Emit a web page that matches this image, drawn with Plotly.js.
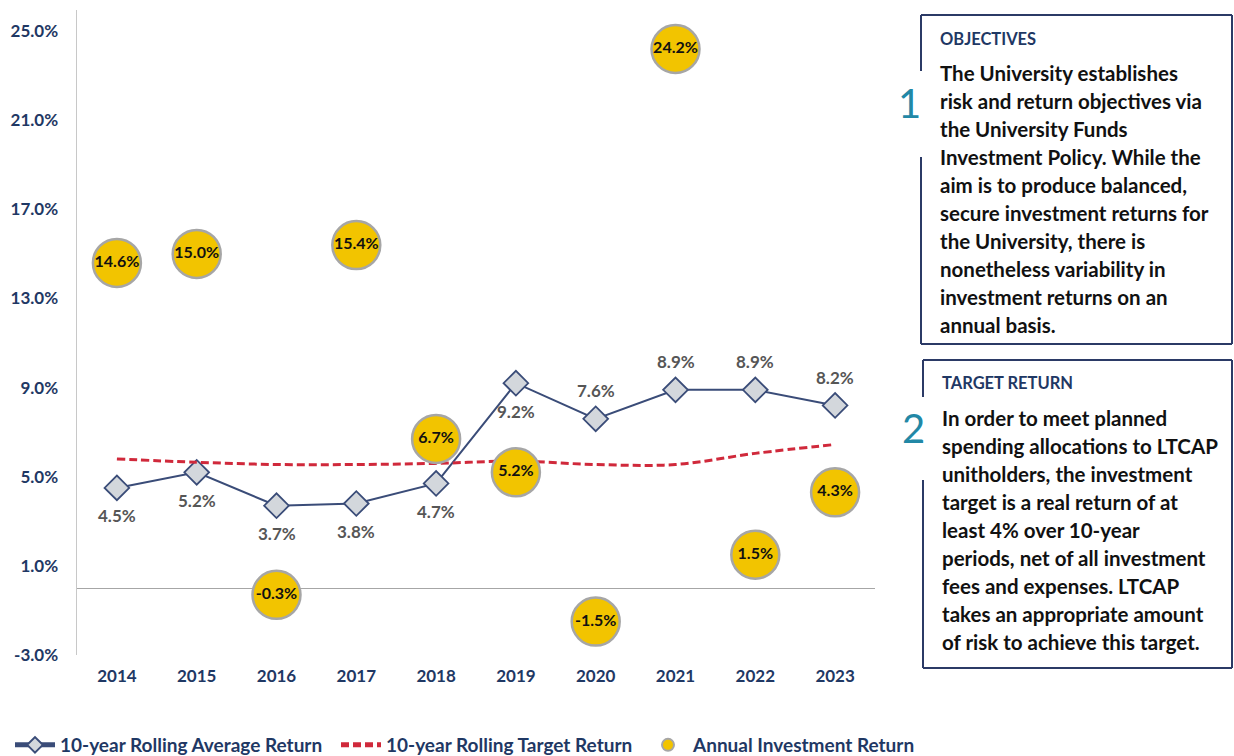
<!DOCTYPE html>
<html>
<head>
<meta charset="utf-8">
<script src="https://cdn.plot.ly/plotly-3.0.1.min.js"></script>
<style>html,body{margin:0;padding:0;background:#fff;}#chart{width:1234px;height:756px;}</style>
</head>
<body>
<div id="chart"></div>
<script>
// ---- data ----
const years = ["2014","2015","2016","2017","2018","2019","2020","2021","2022","2023"];
const rollingAvg = [4.5, 5.2, 3.7, 3.8, 4.7, 9.2, 7.6, 8.9, 8.9, 8.2];
const rollingTarget = [5.8, 5.65, 5.55, 5.55, 5.6, 5.7, 5.55, 5.55, 6.05, 6.45];
const annualReturn = [14.6, 15.0, -0.3, 15.4, 6.7, 5.2, -1.5, 24.2, 1.5, 4.3];
const yTicks = [-3, 1, 5, 9, 13, 17, 21, 25];

const objTitle = "OBJECTIVES";
const objLines = ["The University establishes", "risk and return objectives via", "the University Funds", "Investment Policy. While the", "aim is to produce balanced,", "secure investment returns for", "the University, there is", "nonetheless variability in", "investment returns on an", "annual basis."];
const tgtTitle = "TARGET RETURN";
const tgtLines = ["In order to meet planned", "spending allocations to LTCAP", "unitholders, the investment", "target is a real return of at", "least 4% over 10-year", "periods, net of all investment", "fees and expenses. LTCAP", "takes an appropriate amount", "of risk to achieve this target."];

// ---- layout helpers (pixel -> paper) ----
const W = 1234, H = 756;
const L = 77, R = 875, T = 10, B = 655;
const X = px => (px - L) / (R - L);
const Y = py => (B - py) / (B - T);
const FONT = "Lato, 'Open Sans', sans-serif";
const NAVY = "#1F3864";
// label side for rolling average labels (1 = above, -1 = below)
const labelSide = [-1, -1, -1, -1, -1, -1, 1, 1, 1, 1];

const traces = [
  {
    x: years, y: rollingAvg, type: "scatter", mode: "lines+markers",
    name: "10-year Rolling Average Return", legend: "legend",
    line: {color: "#3A4C78", width: 2},
    marker: {symbol: "diamond", size: 19, color: "#D3D7DC", line: {color: "#3A4C78", width: 1.8}},
    hoverinfo: "skip"
  },
  {
    x: years, y: rollingTarget, type: "scatter", mode: "lines",
    name: "10-year Rolling Target Return", legend: "legend2",
    line: {color: "#D0293B", width: 3, dash: "8px,4px", shape: "spline"},
    hoverinfo: "skip"
  },
  {
    x: years, y: annualReturn, type: "scatter", mode: "markers+text",
    name: "Annual Investment Return", legend: "legend3",
    marker: {symbol: "circle", size: 48, color: "#F2C400", line: {color: "#A6A6A6", width: 2.5}},
    texttemplate: "%{y:.1f}%", textposition: "middle center",
    textfont: {family: FONT, size: 16, color: "#111111", weight: 700},
    hoverinfo: "skip"
  }
];

const shapes = [];
function seg(x0, y0, x1, y1) {
  shapes.push({type: "line", xref: "paper", yref: "paper", x0: X(x0), y0: Y(y0), x1: X(x1), y1: Y(y1),
    line: {color: "#2B3A66", width: 2}});
}
// box 1
seg(921, 15, 1232, 15); seg(1232, 15, 1232, 344); seg(921, 344, 1232, 344);
seg(921, 15, 921, 71); seg(921, 157, 921, 344);
// box 2
seg(923, 360, 1232, 360); seg(1232, 360, 1232, 668); seg(923, 668, 1232, 668);
seg(923, 360, 923, 397); seg(923, 480, 923, 668);

const annotations = [];
function txt(text, px, py, size, color, weight, anchor) {
  annotations.push({text: text, xref: "paper", yref: "paper", x: X(px), y: Y(py),
    xanchor: anchor || "left", yanchor: "middle", showarrow: false, borderpad: 0,
    font: {family: FONT, size: size, color: color, weight: weight}});
}
txt(objTitle, 939, 39, 16.5, NAVY, 700);
objLines.forEach((s, i) => txt(s, 939, 73 + 28 * i, 20.5, "#111111", 700));
txt(tgtTitle, 941, 383, 16.5, NAVY, 700);
tgtLines.forEach((s, i) => txt(s, 941, 418 + 28 * i, 20.5, "#111111", 700));
txt("1", 910, 103, 40, "#2288A6", 400, "center");
txt("2", 913, 428, 40, "#2288A6", 400, "center");

// data labels for the rolling average (placed from the data values)
years.forEach((yr, i) => {
  annotations.push({x: i, y: rollingAvg[i], xref: "x", yref: "y", showarrow: false,
    text: rollingAvg[i].toFixed(1) + "%", yshift: 28 * labelSide[i], borderpad: 0,
    font: {family: FONT, size: 17, color: "#565656", weight: 700}});
});

function legendAt(px) {
  return {orientation: "h", xref: "container", yref: "container", x: px / W, y: (H - 745) / H,
    xanchor: "left", yanchor: "middle", bgcolor: "rgba(0,0,0,0)",
    font: {family: FONT, size: 19, color: NAVY, weight: 700}, itemsizing: "constant", itemwidth: 40};
}

const layout = {
  width: W, height: H,
  margin: {l: L, r: W - R, t: T, b: H - B, pad: 0, autoexpand: false},
  paper_bgcolor: "#ffffff", plot_bgcolor: "#ffffff",
  showlegend: true,
  legend: legendAt(10), legend2: legendAt(336), legend3: legendAt(643),
  xaxis: {type: "category", range: [-0.5, 9.5], showgrid: false, zeroline: false, showline: false, ticks: "",
    tickfont: {family: FONT, size: 17, color: NAVY, weight: 700}, ticklabelstandoff: 9, fixedrange: true},
  yaxis: {range: [-3, 25.95], tickvals: yTicks, ticktext: yTicks.map(v => v.toFixed(1) + "%"), showgrid: false,
    zeroline: true, zerolinecolor: "#A6A6A6", zerolinewidth: 1,
    showline: true, linecolor: "#C8C8C8", linewidth: 1.5, ticks: "",
    tickfont: {family: FONT, size: 17, color: NAVY, weight: 700}, ticklabelstandoff: 14, fixedrange: true},
  shapes: shapes, annotations: annotations
};

Plotly.newPlot("chart", traces, layout, {displayModeBar: false, staticPlot: true});
</script>
</body>
</html>
